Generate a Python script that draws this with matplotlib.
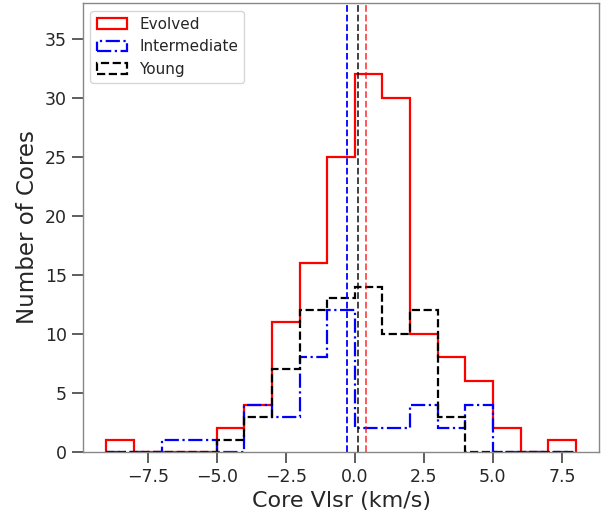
import numpy as np
import matplotlib
matplotlib.use('Agg')
import matplotlib.pyplot as plt

# bin edges (km/s), width 1
edges = np.arange(-9, 9, 1)
centers = edges[:-1] + 0.5

# counts per bin, from -9 to 8
evolved = [1, 0, 0, 0, 2, 4, 11, 16, 25, 32, 30, 10, 8, 6, 2, 0, 1]
intermediate = [0, 0, 1, 1, 0, 4, 3, 8, 12, 2, 2, 4, 2, 4, 0, 0, 0]
young = [0, 0, 0, 0, 1, 3, 7, 12, 13, 14, 10, 12, 3, 0, 0, 0, 0]

# mean velocities
mean_evolved = 0.42
mean_intermediate = -0.30
mean_young = 0.11

plt.rcParams['text.color'] = '#262626'
plt.rcParams['axes.labelcolor'] = '#262626'
plt.rcParams['xtick.labelcolor'] = '#262626'
plt.rcParams['ytick.labelcolor'] = '#262626'

fig, ax = plt.subplots(figsize=(6.09, 5.13), dpi=100)
fig.subplots_adjust(left=0.136, right=0.984, top=0.994, bottom=0.119)

ax.hist(centers, bins=edges, weights=evolved, histtype='step',
        color='red', lw=1.6, ls='-', label='Evolved')
ax.hist(centers, bins=edges, weights=intermediate, histtype='step',
        color='blue', lw=1.6, ls='-.', label='Intermediate')
ax.hist(centers, bins=edges, weights=young, histtype='step',
        color='black', lw=1.6, ls='--', label='Young')

ax.axvline(mean_intermediate, color='blue', ls='--', lw=1.3)
ax.axvline(mean_young, color='black', ls='--', lw=1.3, alpha=0.8)
ax.axvline(mean_evolved, color='red', ls='--', lw=1.3, alpha=0.7)

ax.set_ylim(0, 38)
ax.set_xticks([-7.5, -5.0, -2.5, 0.0, 2.5, 5.0, 7.5])
ax.set_yticks([0, 5, 10, 15, 20, 25, 30, 35])
ax.tick_params(axis='both', labelsize=12.5, length=8, width=1.1, color='#333333')
for s in ax.spines.values():
    s.set_color('#888888')
    s.set_linewidth(1.0)

ax.set_xlabel('Core Vlsr (km/s)', fontsize=16)
ax.set_ylabel('Number of Cores', fontsize=16.5)
ax.legend(loc='upper left', fontsize=11)

plt.savefig('out.png')
